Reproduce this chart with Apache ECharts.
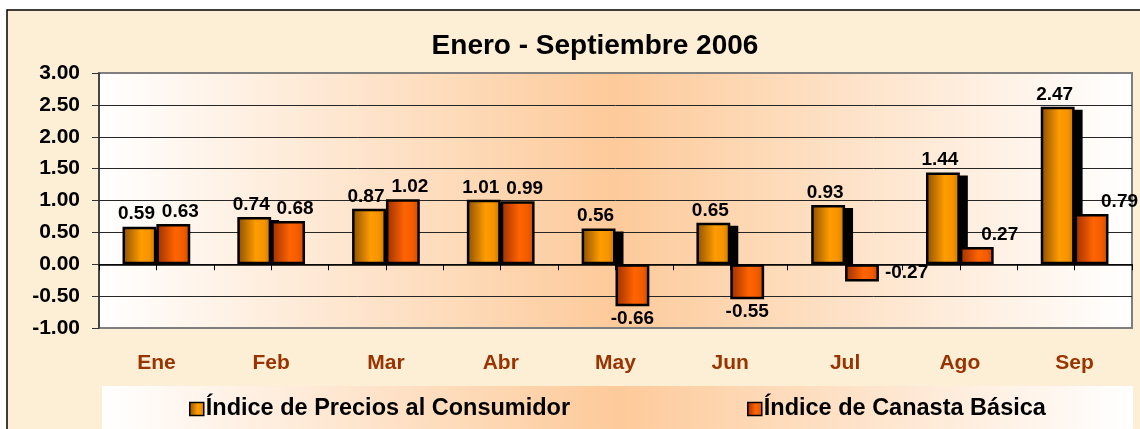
<!DOCTYPE html>
<html>
<head>
<meta charset="utf-8">
<script src="https://cdn.jsdelivr.net/npm/echarts@6/dist/echarts.min.js"></script>
<style>
html,body{margin:0;padding:0;background:#fff;}
#chart{width:1140px;height:429px;}
</style>
</head>
<body>
<div id="chart"></div>
<script>
const categories = ['Ene', 'Feb', 'Mar', 'Abr', 'May', 'Jun', 'Jul', 'Ago', 'Sep'];
const ipcValues = [0.59, 0.74, 0.87, 1.01, 0.56, 0.65, 0.93, 1.44, 2.47];
const canastaValues = [0.63, 0.68, 1.02, 0.99, -0.66, -0.55, -0.27, 0.27, 0.79];
const seriesNames = ['Índice de Precios al Consumidor', 'Índice de Canasta Básica'];
const titleText = 'Enero - Septiembre 2006';
const yMin = -1, yMax = 3, yStep = 0.5;

const FONT = '"Liberation Sans", Arial, sans-serif';
const CAT_GAP = 0.41;
const chart = echarts.init(document.getElementById('chart'), null, {renderer: 'canvas'});

function hGrad(stops) {
  return new echarts.graphic.LinearGradient(0, 0, 1, 0, stops.map(c => ({offset: c[0], color: c[1]})));
}
const ipcFill = () => hGrad([[0, '#8a4f00'], [0.55, '#ff9c00'], [0.8, '#f59300'], [1, '#c77400']]);
const canFill = () => hGrad([[0, '#9a2e00'], [0.55, '#ff6400'], [0.8, '#f25c00'], [1, '#c84a00']]);
const panelFill = () => hGrad([[0, '#ffffff'], [0.5, '#fdca9a'], [1, '#ffffff']]);

// label placement tweaks for the canasta series (index -> placement)
const canastaLabelTweaks = {
  6: {position: 'right', distance: 6, offset: [0, 0]},
  7: {position: 'top', offset: [23, 0]},
  8: {position: 'top', offset: [28, 0]}
};

const labelBase = {
  show: true,
  fontFamily: FONT,
  fontWeight: 'bold',
  fontSize: 19,
  color: '#000',
  distance: 3,
  formatter: p => Number(p.value).toFixed(2)
};

const ipcData = ipcValues.map(v => ({
  value: v,
  label: {position: v < 0 ? 'bottom' : 'top', offset: [-3, 0]}
}));
const canastaData = canastaValues.map((v, i) => {
  const t = canastaLabelTweaks[i];
  return {
    value: v,
    label: t ? t : {position: v < 0 ? 'bottom' : 'top', offset: [v < 0 ? 0 : 7, 0]}
  };
});

// drop shadow on the right of the IPC bars (drawn through the axes' scales)
function renderShadow(params, api) {
  const idx = api.value(0), v = api.value(1);
  const c0 = api.coord([idx, 0]);
  const c1 = api.coord([idx, v]);
  const band = api.size([1, 0])[0];
  const bw = band * (1 - CAT_GAP) / 2;
  const top = Math.min(c0[1], c1[1]);
  const bottom = Math.max(c0[1], c1[1]);
  const y0 = top + 3;
  return {
    type: 'rect',
    shape: {x: c0[0] - bw - 1 + 7, y: y0, width: bw + 2, height: Math.max(0, bottom - y0)},
    style: {fill: '#000'}
  };
}

const option = {
  backgroundColor: '#ffffff',
  animation: false,
  graphic: [
    {
      type: 'rect', z: -10, silent: true,
      shape: {x: 7, y: 10, width: 1145, height: 430},
      style: {fill: '#fcefd6', stroke: '#000', lineWidth: 1.5}
    },
    {
      type: 'rect', z: -5, silent: true,
      shape: {x: 102, y: 386, width: 1031, height: 50},
      style: {fill: panelFill()}
    }
  ],
  title: {
    text: titleText,
    left: 595,
    top: 32,
    textAlign: 'center',
    padding: 0,
    textStyle: {fontFamily: FONT, fontWeight: 'bold', fontSize: 28, color: '#000'}
  },
  legend: [
    {
      data: [seriesNames[0]],
      left: 189, top: 397, padding: 0,
      itemWidth: 14, itemHeight: 13, itemGap: 5,
      icon: 'rect',
      textStyle: {fontFamily: FONT, fontWeight: 'bold', fontSize: 23.5, color: '#000', padding: [0, 0, 0, -3]},
      itemStyle: {borderColor: '#000', borderWidth: 1.5, shadowColor: 'transparent', shadowOffsetX: 0, shadowOffsetY: 0, shadowBlur: 0}
    },
    {
      data: [seriesNames[1]],
      left: 747, top: 397, padding: 0,
      itemWidth: 14, itemHeight: 13, itemGap: 5,
      icon: 'rect',
      textStyle: {fontFamily: FONT, fontWeight: 'bold', fontSize: 23.5, color: '#000', padding: [0, 0, 0, -3]},
      itemStyle: {borderColor: '#000', borderWidth: 1.5, shadowColor: 'transparent', shadowOffsetX: 0, shadowOffsetY: 0, shadowBlur: 0}
    }
  ],
  grid: {
    left: 99, right: 8, top: 73, bottom: 101,
    show: true,
    backgroundColor: panelFill(),
    borderColor: '#7f7f7f',
    borderWidth: 2
  },
  xAxis: [
    {
      type: 'category',
      data: categories,
      position: 'bottom',
      axisLine: {show: false, onZero: false},
      axisTick: {show: false},
      splitLine: {show: false},
      axisLabel: {
        margin: 25, fontFamily: FONT, fontWeight: 'bold', fontSize: 21, color: '#993300'
      }
    },
    {
      type: 'category',
      data: categories.flatMap(c => [c, c]),
      position: 'top',
      axisLine: {show: true, onZero: true, onZeroAxisIndex: 0, lineStyle: {color: '#000', width: 1.5}},
      axisTick: {show: true, inside: true, length: 6, interval: 0, lineStyle: {color: '#000', width: 1}},
      axisLabel: {show: false},
      splitLine: {show: false}
    }
  ],
  yAxis: {
    type: 'value',
    min: yMin, max: yMax, interval: yStep,
    axisLine: {show: true, lineStyle: {color: '#333', width: 1.5}},
    axisTick: {show: true, length: 7, lineStyle: {color: '#333', width: 1}},
    splitLine: {show: true, showMinLine: false, showMaxLine: false, lineStyle: {color: '#262626', width: 1}},
    axisLabel: {
      margin: 19, fontFamily: FONT, fontWeight: 'bold', fontSize: 21, color: '#000',
      formatter: v => v.toFixed(2)
    }
  },
  series: [
    {
      type: 'custom',
      xAxisIndex: 0,
      z: 1,
      silent: true,
      data: ipcValues.map((v, i) => [i, v]),
      renderItem: renderShadow
    },
    {
      name: seriesNames[0],
      type: 'bar',
      xAxisIndex: 0,
      z: 2,
      data: ipcData,
      barGap: '0%',
      barCategoryGap: (CAT_GAP * 100) + '%',
      itemStyle: {color: ipcFill(), borderColor: '#000', borderWidth: 2.5},
      label: labelBase
    },
    {
      name: seriesNames[1],
      type: 'bar',
      xAxisIndex: 0,
      z: 2,
      data: canastaData,
      barGap: '0%',
      barCategoryGap: (CAT_GAP * 100) + '%',
      itemStyle: {color: canFill(), borderColor: '#000', borderWidth: 2.5},
      label: labelBase
    }
  ]
};
chart.setOption(option);
</script>
</body>
</html>
